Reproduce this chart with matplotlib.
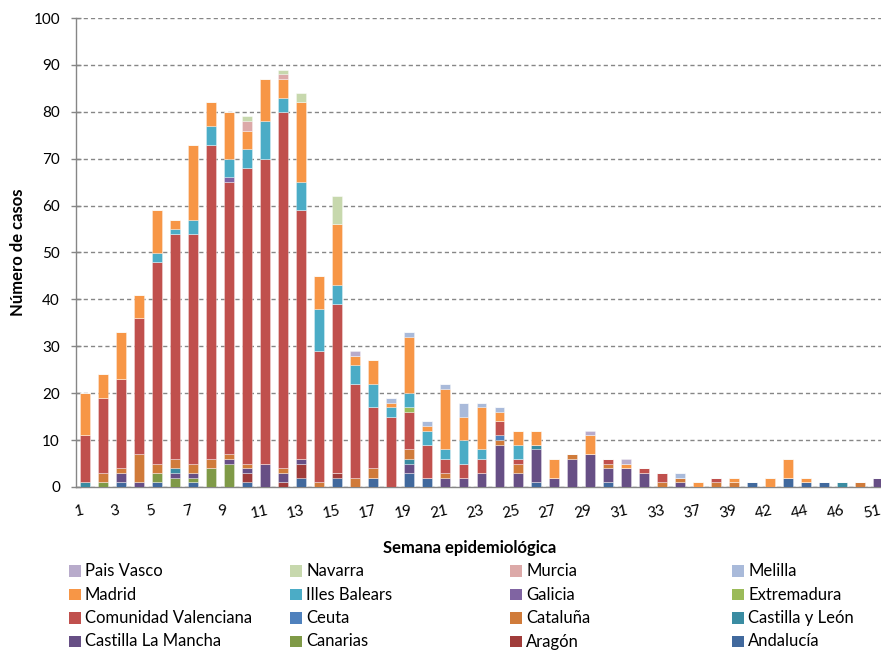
import matplotlib
matplotlib.use("Agg")
import matplotlib.pyplot as plt
import matplotlib.transforms as mtransforms
from matplotlib.patches import Rectangle
import numpy as np

plt.rcParams['font.family'] = ['Lato', 'DejaVu Sans']

weeks = [1, 2, 3, 4, 5, 6, 7, 8, 9, 10, 11, 12, 13, 14, 15, 16, 17, 18, 19, 20,
         21, 22, 23, 24, 25, 26, 27, 28, 29, 30, 31, 32, 33, 35, 37, 38, 39, 41,
         42, 43, 44, 45, 46, 49, 51]

andalucia = [0,0,1,0,1,0,1,0,0,1, 0,0,2,0,2,0,2,0,3,2, 0,0,0,0,0,1,0,0,0,1, 0,0,0,0,0,0,0,1,0,2, 1,1,0,0,0]
aragon    = [0,0,0,0,0,0,0,0,0,2, 0,1,3,0,1,0,0,0,0,0, 0,0,0,0,0,0,0,0,0,0, 0,0,0,0,0,0,0,0,0,0, 0,0,0,0,0]
canarias  = [0,1,0,0,2,2,1,4,5,0, 0,0,0,0,0,0,0,0,0,0, 0,0,0,0,0,0,0,0,0,0, 0,0,0,0,0,0,0,0,0,0, 0,0,0,0,0]
castilla_la_mancha = [0,0,2,1,0,1,1,0,1,1, 5,2,1,0,0,0,0,0,2,0, 2,2,3,9,3,7,2,6,7,3, 4,3,0,1,0,0,0,0,0,0, 0,0,0,0,2]
castilla_y_leon    = [1,0,0,0,0,1,0,0,0,0, 0,0,0,0,0,0,0,0,1,0, 0,0,0,0,0,1,0,0,0,0, 0,0,0,0,0,0,0,0,0,0, 0,0,1,0,0]
cataluna  = [0,2,1,6,2,2,2,2,1,1, 0,1,0,1,0,2,2,0,2,0, 1,0,0,1,2,0,0,1,0,1, 0,0,1,1,0,1,1,0,0,0, 0,0,0,1,0]
ceuta     = [0,0,0,0,0,0,0,0,0,0, 0,0,0,0,0,0,0,0,0,0, 0,0,0,1,0,0,0,0,0,0, 0,0,0,0,0,0,0,0,0,0, 0,0,0,0,0]
comunidad_valenciana = [10,16,19,29,43,48,49,67,58,63, 65,76,53,28,36,20,13,15,8,7, 3,3,3,3,1,0,0,0,0,1, 0,1,2,0,0,1,0,0,0,0, 0,0,0,0,0]
extremadura = [0,0,0,0,0,0,0,0,0,0, 0,0,0,0,0,0,0,0,1,0, 0,0,0,0,0,0,0,0,0,0, 0,0,0,0,0,0,0,0,0,0, 0,0,0,0,0]
galicia   = [0,0,0,0,0,0,0,0,1,0, 0,0,0,0,0,0,0,0,0,0, 0,0,0,0,0,0,0,0,0,0, 0,0,0,0,0,0,0,0,0,0, 0,0,0,0,0]
illes_balears = [0,0,0,0,2,1,3,4,4,4, 8,3,6,9,4,4,5,2,3,3, 2,5,2,0,3,0,0,0,0,0, 0,0,0,0,0,0,0,0,0,0, 0,0,0,0,0]
madrid    = [9,5,10,5,9,2,16,5,10,4, 9,4,17,7,13,2,5,1,12,1, 13,5,9,2,3,3,4,0,4,0, 1,0,0,0,1,0,1,0,2,4, 1,0,0,0,0]
melilla   = [0,0,0,0,0,0,0,0,0,0, 0,0,0,0,0,0,0,1,1,1, 1,3,1,1,0,0,0,0,0,0, 0,0,0,1,0,0,0,0,0,0, 0,0,0,0,0]
murcia    = [0,0,0,0,0,0,0,0,0,2, 0,1,0,0,0,0,0,0,0,0, 0,0,0,0,0,0,0,0,0,0, 0,0,0,0,0,0,0,0,0,0, 0,0,0,0,0]
navarra   = [0,0,0,0,0,0,0,0,0,1, 0,1,2,0,6,0,0,0,0,0, 0,0,0,0,0,0,0,0,0,0, 0,0,0,0,0,0,0,0,0,0, 0,0,0,0,0]
pais_vasco = [0,0,0,0,0,0,0,0,0,0, 0,0,0,0,0,1,0,0,0,0, 0,0,0,0,0,0,0,0,1,0, 1,0,0,0,0,0,0,0,0,0, 0,0,0,0,0]

regions = ["Andalucía", "Aragón", "Canarias", "Castilla La Mancha", "Castilla y León",
           "Cataluña", "Ceuta", "Comunidad Valenciana", "Extremadura", "Galicia",
           "Illes Balears", "Madrid", "Melilla", "Murcia", "Navarra", "Pais Vasco"]
series = [andalucia, aragon, canarias, castilla_la_mancha, castilla_y_leon, cataluna,
          ceuta, comunidad_valenciana, extremadura, galicia, illes_balears, madrid,
          melilla, murcia, navarra, pais_vasco]
colors = ['#41699D', '#A03C3A', '#7F9A47', '#674F85', '#3A8CA2', '#D07B3A',
          '#4F81BD', '#C0504D', '#9BBB59', '#8064A2', '#4BACC6', '#F79646',
          '#A9BADA', '#DCA9A8', '#C7D8AD', '#B8ABCB']

W, H = 881, 651
fig = plt.figure(figsize=(W/100, H/100), dpi=100)
ax = fig.add_axes([76/W, 1-487/H, 811/W, 469/H])

x = np.arange(len(weeks))
bottom = np.zeros(len(weeks))
for name, vals, col in zip(regions, series, colors):
    v = np.array(vals, dtype=float)
    ax.bar(x, v, 0.55, bottom=bottom, color=col, edgecolor=(1, 1, 1, 0.45),
           linewidth=0.5, zorder=3)
    bottom += v

ax.set_xlim(-0.5, len(weeks) - 0.5)
ax.set_ylim(0, 100)
ax.set_yticks(np.arange(0, 101, 10))
ax.yaxis.grid(True, color='#868686', linestyle=(0, (3, 2.2)), linewidth=1, zorder=0)
ax.set_axisbelow(True)

ax.set_xticks(x)
ax.set_xticklabels([str(w) if i % 2 == 0 else '' for i, w in enumerate(weeks)],
                   rotation=12, fontsize=11)
ax.tick_params(axis='x', length=0, pad=12)
shift = mtransforms.ScaledTranslation(-6/100, 0, fig.dpi_scale_trans)
for lab in ax.get_xticklabels():
    lab.set_transform(lab.get_transform() + shift)
ax.tick_params(axis='y', direction='inout', length=7, width=1, color='#868686',
               labelsize=11, pad=8)
for s in ['top', 'right']:
    ax.spines[s].set_visible(False)
for s in ['left', 'bottom']:
    ax.spines[s].set_color('#868686')
    ax.spines[s].set_linewidth(1)

fig.text(18/W, 1-252/H, "Número de casos", rotation=90, ha='center', va='center',
         fontsize=12, fontweight='bold')
fig.text(470/W, 1-548/H, "Semana epidemiológica", ha='center', va='center',
         fontsize=12, fontweight='bold')

# legend (row-major, reversed stack order)
order = list(range(len(regions)))[::-1]
col_x = [69, 290, 510, 732]
row_y = [571, 594.5, 618, 641.5]
sq = 11.5
for k, idx in enumerate(order):
    r, c = divmod(k, 4)
    x0 = col_x[c]
    y0 = row_y[r]
    fig.patches.append(Rectangle((x0/W, 1-(y0+sq/2)/H), sq/W, sq/H,
                                 transform=fig.transFigure, facecolor=colors[idx],
                                 edgecolor='none'))
    fig.text((x0+16)/W, 1-y0/H, regions[idx], ha='left', va='center', fontsize=12)

fig.savefig("out.png", dpi=100)
